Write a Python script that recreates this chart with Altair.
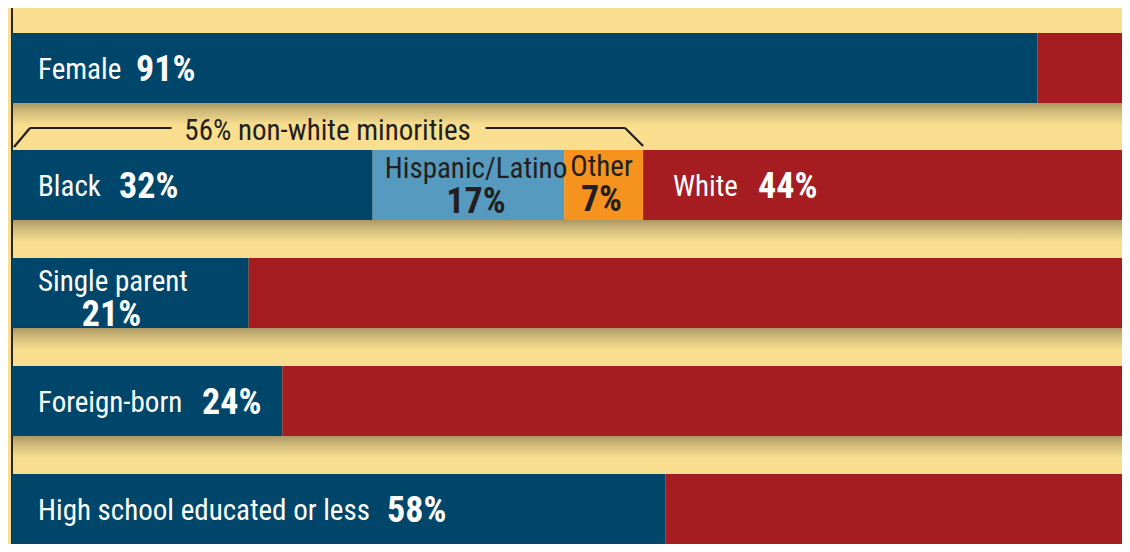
import altair as alt
import pandas as pd

# ---- data ----
rows = ["Female", "Race", "Single parent", "Foreign-born", "High school educated or less"]
binary_labels = ["Female", "Single parent", "Foreign-born", "High school educated or less"]
binary_values = [91, 21, 24, 58]
race_groups = ["Black", "Hispanic/Latino", "Other", "White"]
race_values = [32, 17, 7, 44]
bracket_label = "non-white minorities"

# ---- style ----
BG = "#F8DE8E"
BLUE = "#00466A"
RED = "#A51C21"
LBLUE = "#579ABF"
ORANGE = "#F6921E"
INK = "#231F20"
FONT = "Liberation Sans Narrow, Roboto Condensed, DejaVu Sans Condensed, Roboto, sans-serif"
W, H = 1110, 536
XMAX = 100 * W / 1127
P = 100 / 1127  # percent per pixel
LAB = 29
PCT = 36
SHIFT = 2

seg = []
for lab, v in zip(binary_labels, binary_values):
    seg.append(dict(row=lab, group="share", start=0, end=v))
    seg.append(dict(row=lab, group="rest", start=v, end=100))
cum = 0
for g, v in zip(race_groups, race_values):
    seg.append(dict(row="Race", group=g, start=cum, end=cum + v))
    cum += v
seg = pd.DataFrame(seg)

xscale = alt.Scale(domain=[0, XMAX], nice=False, zero=False)
yscale = alt.Scale(domain=rows, paddingInner=0.352, paddingOuter=0.1574, align=1)
Y = alt.Y("row:N", scale=yscale, sort=rows, axis=None)
color = alt.Color(
    "group:N",
    scale=alt.Scale(
        domain=["share", "rest", "Black", "Hispanic/Latino", "Other", "White"],
        range=[BLUE, RED, BLUE, LBLUE, ORANGE, RED],
    ),
    legend=None,
)

shadow_grad = alt.LinearGradient(
    gradient="linear",
    stops=[
        alt.GradientStop(color="#AC9864", offset=0),
        alt.GradientStop(color="#D4BE7C", offset=0.45),
        alt.GradientStop(color=BG, offset=1),
    ],
    x1=0, x2=0, y1=0, y2=1,
)
shadow_df = pd.DataFrame({"row": rows, "start": [0] * 5, "end": [100] * 5})
base_sh = alt.Chart(shadow_df).encode(
    y=Y, x=alt.X("start:Q", scale=xscale, axis=None), x2="end:Q"
)
shadow_f = base_sh.transform_filter(alt.datum.row == "Female").mark_bar(
    height=22, yOffset=37, clip=True, color=shadow_grad
)
shadow_o = base_sh.transform_filter(alt.datum.row != "Female").mark_bar(
    height=22, yOffset=46, clip=True, color=shadow_grad
)

vline = alt.Chart(pd.DataFrame({"x": [0]})).mark_rule(color="#2B2520", strokeWidth=2).encode(
    x=alt.X("x:Q", scale=xscale, axis=None)
)

base_bar = alt.Chart(seg).encode(
    y=Y, x=alt.X("start:Q", scale=xscale, axis=None), x2="end:Q", color=color
)
bars_f = base_bar.transform_filter(alt.datum.row == "Female").mark_bar(yOffset=-9, clip=True)
bars_o = base_bar.transform_filter(alt.datum.row != "Female").mark_bar(clip=True)

# bracket over the non-white minorities
minority = sum(race_values[:3])
one = pd.DataFrame({"a": [0]})
br_pts = [
    (2 * P, 139, 18 * P, 120),
    (18 * P, 120, minority / 2 - 156 * P, 120),
    (minority / 2 + 158 * P, 120, minority - 18 * P, 120),
    (minority - 18 * P, 120, minority, 138),
]
bracket = [
    alt.Chart(one).mark_rule(color=INK, strokeWidth=2.2).encode(
        x=alt.datum(x1, scale=xscale), x2=alt.datum(x2), y=alt.value(y1), y2=alt.value(y2)
    )
    for x1, y1, x2, y2 in br_pts
]
bracket_text = alt.Chart(one).mark_text(
    align="center", baseline="middle", fontSize=LAB, font=FONT, color=INK
).encode(x=alt.datum(minority / 2, scale=xscale), y=alt.value(121 + SHIFT),
         text=alt.value(f"{minority}% {bracket_label}"))


def label(row, text, x, dy, size, bold, color, align="left"):
    return alt.Chart(pd.DataFrame({"row": [row], "t": [text]})).mark_text(
        align=align, baseline="middle", dy=dy + SHIFT, fontSize=size,
        fontWeight="bold" if bold else "normal", font=FONT, color=color,
    ).encode(y=Y, x=alt.value(x), text="t:N")


bv = dict(zip(binary_labels, binary_values))
rv = dict(zip(race_groups, race_values))
texts = [
    label("Female", "Female", 26, -9, LAB, False, "white"),
    label("Female", f"{bv['Female']}%", 124, -9, PCT, True, "white"),
    label("Race", "Black", 26, 0, LAB, False, "white"),
    label("Race", f"{rv['Black']}%", 107, 0, PCT, True, "white"),
    label("Race", "Hispanic/Latino", 464, -18, LAB, False, INK, "center"),
    label("Race", f"{rv['Hispanic/Latino']}%", 464, 15, PCT, True, INK, "center"),
    label("Race", "Other", 589.5, -20, LAB, False, INK, "center"),
    label("Race", f"{rv['Other']}%", 589.5, 13, PCT, True, INK, "center"),
    label("Race", "White", 661, 0, LAB, False, "white"),
    label("Race", f"{rv['White']}%", 746, 0, PCT, True, "white"),
    label("Single parent", "Single parent", 26, -13, LAB, False, "white"),
    label("Single parent", f"{bv['Single parent']}%", 99.5, 20, PCT, True, "white", "center"),
    label("Foreign-born", "Foreign-born", 26, 0, LAB, False, "white"),
    label("Foreign-born", f"{bv['Foreign-born']}%", 190, 0, PCT, True, "white"),
    label("High school educated or less", "High school educated or less", 26, 0, LAB, False, "white"),
    label("High school educated or less", f"{bv['High school educated or less']}%", 375, 0, PCT, True, "white"),
]

chart = alt.layer(
    shadow_f, shadow_o, vline, bars_f, bars_o, *bracket, bracket_text, *texts
).properties(
    width=W, height=H,
    padding={"left": 4, "top": 0, "right": 0, "bottom": 0},
    autosize=alt.AutoSizeParams(type="none"),
    background=BG,
).configure_view(stroke=None)

chart.save("out.html", embed_options={"renderer": "svg", "actions": False})
